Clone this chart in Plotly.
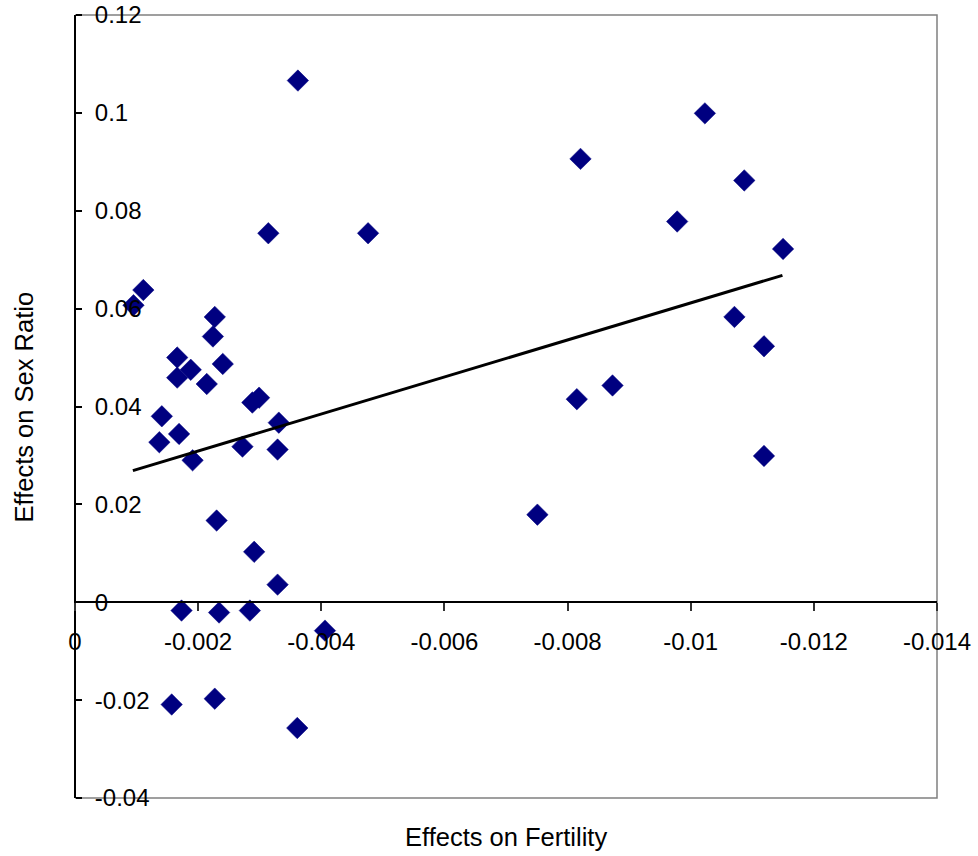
import plotly.graph_objects as go

# Data
fertility = [-0.00095, -0.00111, -0.00166, -0.00166, -0.00188, -0.00141, -0.00137,
             -0.00169, -0.00191, -0.00214, -0.00227, -0.00224, -0.00240, -0.00230,
             -0.00173, -0.00234, -0.00284, -0.00157, -0.00227, -0.00272, -0.00288,
             -0.00299, -0.00331, -0.00329, -0.00291, -0.00329, -0.00314, -0.00362,
             -0.00361, -0.00406, -0.00476, -0.00751, -0.00815, -0.00821, -0.00873,
             -0.00978, -0.01023, -0.01087, -0.01071, -0.01119, -0.01119, -0.01150]
sex_ratio = [0.0607, 0.0638, 0.0500, 0.0459, 0.0475, 0.0380, 0.0327,
             0.0344, 0.0290, 0.0446, 0.0583, 0.0543, 0.0487, 0.0167,
             -0.0017, -0.0021, -0.0017, -0.0209, -0.0197, 0.0318, 0.0408,
             0.0418, 0.0367, 0.0312, 0.0103, 0.0036, 0.0754, 0.1066,
             -0.0257, -0.0058, 0.0754, 0.0179, 0.0415, 0.0906, 0.0443,
             0.0778, 0.0999, 0.0862, 0.0583, 0.0523, 0.0299, 0.0722]

trend_x = [-0.00094, -0.01149]
trend_y = [0.0269, 0.0668]

x_tickvals = [0, -0.002, -0.004, -0.006, -0.008, -0.01, -0.012, -0.014]
x_ticktext = ["0", "-0.002", "-0.004", "-0.006", "-0.008", "-0.01", "-0.012", "-0.014"]
y_tickvals = [-0.04, -0.02, 0, 0.02, 0.04, 0.06, 0.08, 0.1, 0.12]
y_ticktext = ["-0.04", "-0.02", "0", "0.02", "0.04", "0.06", "0.08", "0.1", "0.12"]

FONT = "Liberation Sans, Arial, sans-serif"

fig = go.Figure()
fig.add_trace(go.Scatter(
    x=fertility, y=sex_ratio, mode="markers",
    marker=dict(symbol="diamond", size=16.5, color="#000080",
                line=dict(color="#000080", width=0.5)),
    showlegend=False, hoverinfo="x+y",
))
fig.add_trace(go.Scatter(
    x=trend_x, y=trend_y, mode="lines",
    line=dict(color="black", width=3), showlegend=False,
))

fig.update_layout(
    width=978, height=856,
    margin=dict(l=75, r=41, t=15, b=58, pad=0, autoexpand=False),
    paper_bgcolor="white", plot_bgcolor="white",
    font=dict(family=FONT, size=24, color="black"),
    showlegend=False,
    xaxis=dict(
        range=[0, -0.014], tickvals=x_tickvals, ticktext=x_ticktext,
        showgrid=False, zeroline=False,
        showline=True, linecolor="black", linewidth=2,
        ticks="outside", ticklen=8, tickwidth=2, tickcolor="#333333",
        anchor="free", position=0.25, ticklabelstandoff=10,
        ticklabeloverflow="allow", layer="above traces", automargin=False,
        tickfont=dict(family=FONT, size=24, color="black"),
    ),
    yaxis=dict(
        range=[-0.04, 0.12], tickvals=y_tickvals, ticktext=y_ticktext,
        showgrid=False, zeroline=False,
        showline=True, linecolor="black", linewidth=2,
        side="right", anchor="free", position=0,
        ticks="outside", ticklen=6, tickwidth=2, tickcolor="black",
        ticklabelstandoff=8, ticklabeloverflow="allow", layer="above traces",
        automargin=False,
        tickfont=dict(family=FONT, size=24, color="black"),
    ),
    shapes=[dict(
        type="path", xref="paper", yref="paper",
        path="M 0,1 L 1,1 L 1,0 L 0,0",
        line=dict(color="#808080", width=1.5), layer="below",
    )],
    annotations=[
        dict(text="Effects on Fertility", xref="paper", yref="paper",
             x=0.5, y=-0.0495, xanchor="center", yanchor="middle",
             showarrow=False, font=dict(family=FONT, size=25.5, color="black")),
        dict(text="Effects on Sex Ratio", xref="paper", yref="paper",
             x=-0.0592, y=0.5, xanchor="center", yanchor="middle", textangle=-90,
             showarrow=False, font=dict(family=FONT, size=25.5, color="black")),
    ],
)

fig.write_html("out.html", config={"displayModeBar": False},
               post_script="document.body.style.margin='0px';")
